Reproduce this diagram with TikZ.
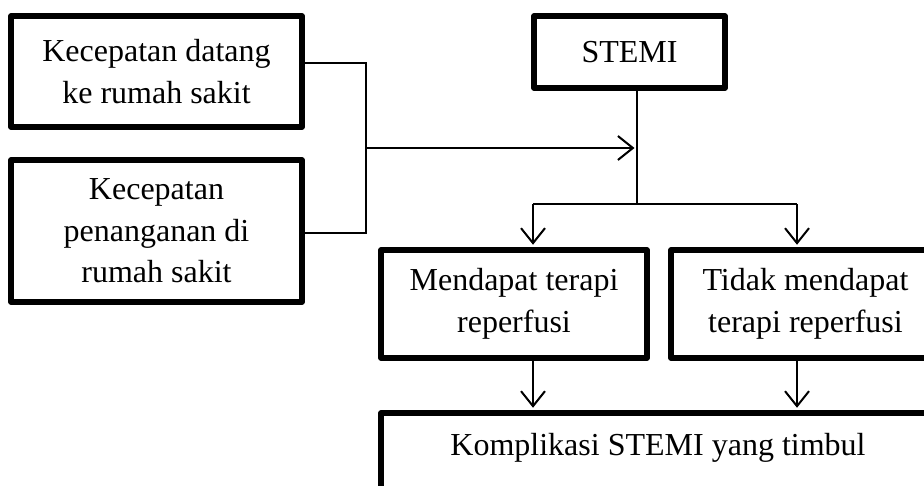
\documentclass[tikz,border=0pt]{standalone}
\usepackage{fontspec}
\setmainfont{Liberation Serif}
\usetikzlibrary{arrows.meta}
\tikzset{
  box/.style={draw, line width=5.5pt, line join=round, inner sep=0pt, align=center, anchor=center, font=\fontsize{32}{41.5}\selectfont},
  conn/.style={line width=2pt},
  arr/.style={conn, -{Straight Barb[length=15pt,width=24pt]}, shorten >=2.5pt},
  lbl/.style={inner sep=0pt, font=\fontsize{32}{41.5}\selectfont}
}
\begin{document}
\begin{tikzpicture}[x=1pt,y=-1pt]
\useasboundingbox (0,0) rectangle (924,485);
\clip (0,0) rectangle (924,485);
\node[box, minimum width=291pt, minimum height=111pt] (b1) at (156.5,71.5) {Kecepatan datang\\ke rumah sakit};
\node[box, minimum width=291pt, minimum height=142pt] (b2) at (156.5,231) {Kecepatan\\penanganan di\\rumah sakit};
\node[box, minimum width=191pt, minimum height=72pt] (stemi) at (629.5,52) {STEMI};
\node[box, minimum width=266pt, minimum height=108pt] (mend) at (514,304) {Mendapat terapi\\reperfusi};
\node[box, minimum width=269pt, minimum height=108pt] (tidak) at (805.5,304) {Tidak mendapat\\terapi reperfusi};
\node[box, minimum width=559pt, minimum height=110pt] (komp) at (660.5,468) {};
\node[lbl, anchor=base] (komptext) at (658,455) {Komplikasi STEMI yang timbul};
\coordinate (j1) at (366,63);
\coordinate (j2) at (366,233);
\coordinate (jm) at (366,148);
\coordinate (sv) at (637,148);
\coordinate (sb) at (637,204);
\coordinate (bl) at (533,204);
\coordinate (br) at (797,204);
\draw[conn] (b1.east |- j1) -- (j1) -- (j2) -- (b2.east |- j2);
\draw[arr] (jm) -- (sv);
\draw[conn] (stemi.south -| sb) -- (sb);
\draw[conn] (bl) -- (br);
\draw[arr] (bl) -- (mend.north -| bl);
\draw[arr] (br) -- (tidak.north -| br);
\draw[arr] (mend.south -| bl) -- (komp.north -| bl);
\draw[arr] (tidak.south -| br) -- (komp.north -| br);
\end{tikzpicture}
\end{document}
